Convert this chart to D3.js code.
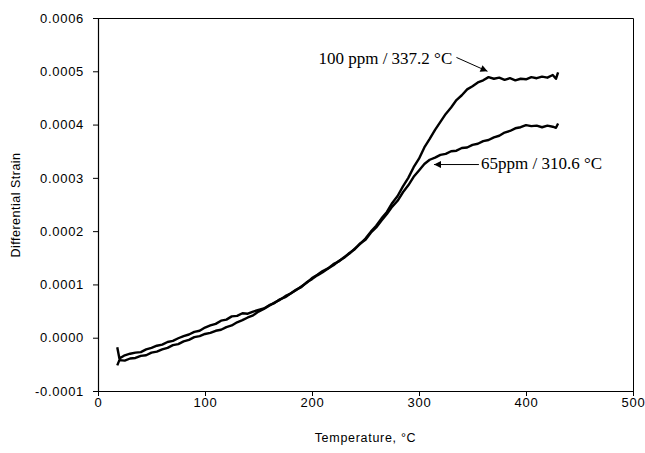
<!DOCTYPE html>
<html>
<head>
<meta charset="utf-8">
<script src="https://cdn.jsdelivr.net/npm/d3@7/dist/d3.min.js"></script>
<style>
  html, body { margin: 0; padding: 0; background: #fff; }
  svg { display: block; }
  .sans { font-family: "Liberation Sans", Arial, sans-serif; }
  .serif { font-family: "Liberation Serif", "Times New Roman", serif; }
</style>
</head>
<body>
<svg id="chart" width="645" height="453"></svg>
<script>
// ---- data ----
const xTicks = [0, 100, 200, 300, 400, 500];
const yTicks = [-0.0001, 0, 0.0001, 0.0002, 0.0003, 0.0004, 0.0005, 0.0006];

const temperature = [18,20,25,30,35,40,45,50,55,60,65,70,75,80,85,90,95,100,105,110,115,120,125,130,135,140,145,150,155,160,165,170,175,180,185,190,195,200,205,210,215,220,225,230,235,240,245,250,255,260,265,270,275,280,285,290,295,300,305,310,315,320,325,330,335,340,345,350,355,360,365,370,375,380,385,390,395,400,405,410,415,420,425,428,430];

const strain100ppm = [-1.8e-5,-3.9e-5,-3.3e-5,-3.0e-5,-2.8e-5,-2.7e-5,-2.2e-5,-1.9e-5,-1.5e-5,-1.3e-5,-0.8e-5,-0.6e-5,-0.1e-5,0.3e-5,0.6e-5,1.1e-5,1.3e-5,1.9e-5,2.3e-5,2.6e-5,3.2e-5,3.4e-5,4.0e-5,4.1e-5,4.6e-5,4.5e-5,4.9e-5,5.2e-5,5.5e-5,6.1e-5,6.5e-5,7.2e-5,7.6e-5,8.3e-5,8.9e-5,9.6e-5,10.3e-5,11.2e-5,11.8e-5,12.5e-5,13.0e-5,13.8e-5,14.3e-5,15.1e-5,15.8e-5,16.7e-5,17.6e-5,18.6e-5,19.9e-5,21.0e-5,22.4e-5,23.6e-5,25.3e-5,26.6e-5,28.4e-5,30.0e-5,32.0e-5,33.6e-5,35.7e-5,37.3e-5,39.0e-5,40.5e-5,42.0e-5,43.2e-5,44.6e-5,45.5e-5,46.6e-5,47.2e-5,47.9e-5,48.3e-5,48.9e-5,48.6e-5,48.8e-5,48.4e-5,48.7e-5,48.3e-5,48.6e-5,48.5e-5,48.9e-5,48.7e-5,49.0e-5,48.8e-5,49.3e-5,48.6e-5,49.8e-5];

const strain65ppm = [-5.2e-5,-4.2e-5,-4.3e-5,-3.9e-5,-3.8e-5,-3.4e-5,-3.3e-5,-2.8e-5,-2.6e-5,-2.2e-5,-1.9e-5,-1.4e-5,-1.2e-5,-0.7e-5,-0.4e-5,0.1e-5,0.3e-5,0.7e-5,0.9e-5,1.3e-5,1.5e-5,2.0e-5,2.3e-5,2.9e-5,3.3e-5,3.8e-5,4.2e-5,4.9e-5,5.4e-5,6.0e-5,6.6e-5,7.1e-5,7.8e-5,8.3e-5,9.0e-5,9.5e-5,10.4e-5,11.0e-5,11.7e-5,12.3e-5,13.0e-5,13.6e-5,14.4e-5,15.0e-5,15.9e-5,16.6e-5,17.7e-5,18.4e-5,19.7e-5,20.7e-5,22.0e-5,23.2e-5,24.6e-5,25.7e-5,27.3e-5,28.6e-5,30.2e-5,31.4e-5,32.6e-5,33.4e-5,33.8e-5,34.3e-5,34.5e-5,35.0e-5,35.1e-5,35.6e-5,35.7e-5,36.2e-5,36.4e-5,36.9e-5,37.1e-5,37.6e-5,37.9e-5,38.5e-5,38.8e-5,39.3e-5,39.5e-5,39.9e-5,39.7e-5,39.8e-5,39.5e-5,39.8e-5,39.6e-5,39.4e-5,40.2e-5];

const annotations = [
  { label: "100 ppm / 337.2 °C", textX: 206, textY: 0.000514, fromX: 335, fromY: 0.000526, toX: 364, toY: 0.000500 },
  { label: "65ppm / 310.6 °C",   textX: 358, textY: 0.000317, fromX: 356, fromY: 0.000325, toX: 314, toY: 0.000325 }
];

// ---- layout ----
const svg = d3.select("#chart");
const mLeft = 98, mRight = 633, mTop = 18, mBottom = 391;

const x = d3.scaleLinear().domain([0, 500]).range([mLeft, mRight]);
const y = d3.scaleLinear().domain([-0.0001, 0.0006]).range([mBottom, mTop]);

const fmtY = v => { const s = d3.format(".4f")(Math.abs(v)); return (v < -1e-12 ? "-" : "") + s; };

// frame (top & right)
svg.append("path")
  .attr("d", `M${mLeft},${mTop + 0.5}H${mRight + 0.5}V${mBottom}`)
  .attr("fill", "none").attr("stroke", "#000").attr("stroke-width", 1);

// axes
const gx = svg.append("g").attr("transform", `translate(0,${mBottom})`)
  .call(d3.axisBottom(x).tickValues(xTicks).tickSize(5).tickPadding(2).tickSizeOuter(0));
const gy = svg.append("g").attr("transform", `translate(${mLeft},0)`)
  .call(d3.axisLeft(y).tickValues(yTicks).tickFormat(fmtY).tickSize(5).tickPadding(9).tickSizeOuter(0));

[gx, gy].forEach(g => {
  g.select(".domain").attr("stroke", "#000").attr("stroke-width", 1.2);
  g.selectAll(".tick line").attr("stroke", "#000");
  g.selectAll(".tick text")
    .attr("class", "sans")
    .attr("fill", "#000")
    .style("font-size", "13px")
    .style("letter-spacing", "0.7px");
});

// axis titles
svg.append("text").attr("class", "sans")
  .attr("x", (mLeft + mRight) / 2).attr("y", 442)
  .attr("text-anchor", "middle").style("font-size", "12.5px").style("letter-spacing", "0.7px")
  .text("Temperature, °C");

svg.append("text").attr("class", "sans")
  .attr("transform", `translate(20,205) rotate(-90)`)
  .attr("text-anchor", "middle").style("font-size", "12.5px").style("letter-spacing", "0.5px")
  .text("Differential Strain");

// data lines
const line = d3.line().x(d => x(d[0])).y(d => y(d[1]));
[strain100ppm, strain65ppm].forEach(series => {
  svg.append("path")
    .datum(temperature.map((t, i) => [t, series[i]]))
    .attr("d", line)
    .attr("fill", "none")
    .attr("stroke", "#000")
    .attr("stroke-width", 2.4)
    .attr("stroke-linejoin", "round");
});

// annotations
svg.append("defs").append("marker")
  .attr("id", "arr").attr("viewBox", "0 0 10 10").attr("refX", 10).attr("refY", 5)
  .attr("markerWidth", 9).attr("markerHeight", 7).attr("markerUnits", "userSpaceOnUse")
  .attr("orient", "auto")
  .append("path").attr("d", "M0,0L10,5L0,10Z").attr("fill", "#000");

annotations.forEach(a => {
  svg.append("line")
    .attr("x1", x(a.fromX)).attr("y1", y(a.fromY))
    .attr("x2", x(a.toX)).attr("y2", y(a.toY))
    .attr("stroke", "#000").attr("stroke-width", 1)
    .attr("marker-end", "url(#arr)");
  svg.append("text").attr("class", "serif")
    .attr("x", x(a.textX)).attr("y", y(a.textY))
    .style("font-size", "17px").attr("fill", "#000")
    .text(a.label);
});
</script>
</body>
</html>
